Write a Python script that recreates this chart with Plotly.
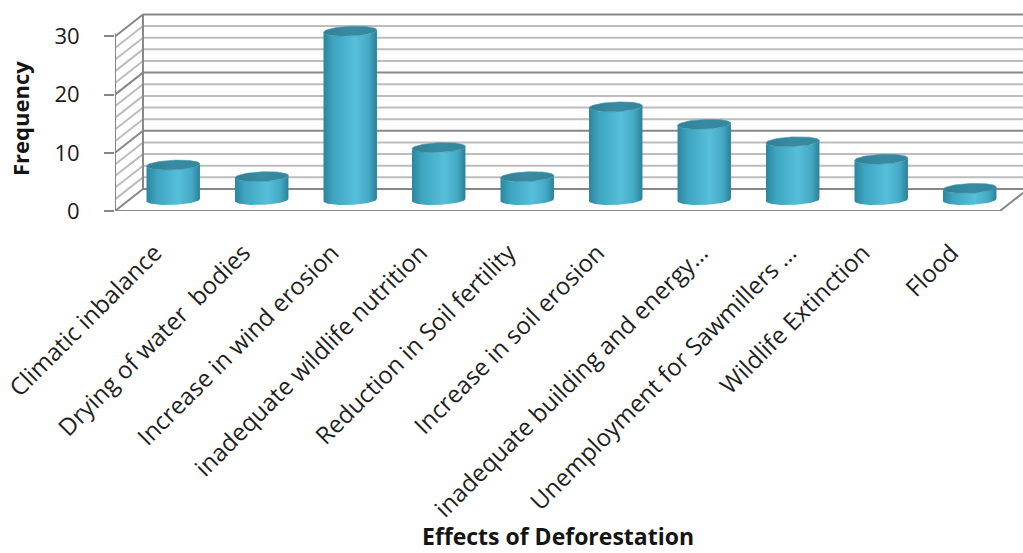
import numpy as np
import plotly.graph_objects as go

# ---- data -------------------------------------------------------------
effects = [
    "Climatic inbalance",
    "Drying of water  bodies",
    "Increase in wind erosion",
    "inadequate wildlife nutrition",
    "Reduction in Soil fertility",
    "Increase in soil erosion",
    "inadequate building and energy\u2026",
    "Unemployment for Sawmillers \u2026",
    "Wildlife Extinction",
    "Flood",
]
frequency = [6, 4, 29, 9, 4, 16, 13, 10, 7, 2]
y_ticks = [0, 10, 20, 30]

# ---- pseudo-3D geometry (data units) ---------------------------------
DX, DY = 0.316, 3.78          # offset from front plane to back wall
Y_TOP = 30                     # height of the walls
R, SKEW, B = 0.294, 0.068, 0.86  # cylinder radius / skew / ellipse depth
X_MIN, X_MAX = -0.5, 9.76
Y_MIN, Y_MAX = 0.0, 34.54
LABEL_SHIFT = -0.05            # nudges rotated labels under their bars
TRUNC_SHIFT = 0.17             # truncated labels sit a little further right

fig = go.Figure()


def line_trace(segments, color, width):
    xs, ys = [], []
    for (x0, y0), (x1, y1) in segments:
        xs += [x0, x1, None]
        ys += [y0, y1, None]
    fig.add_trace(go.Scatter(x=xs, y=ys, mode="lines",
                             line=dict(color=color, width=width),
                             hoverinfo="skip", showlegend=False))


n = len(effects)
x_left, x_right = -0.5, n - 0.5
levels = np.arange(0, Y_TOP + 1, 2)

minor = [v for v in levels if v % 10]
major = [v for v in levels if v % 10 == 0]

# back wall gridlines and side wall diagonals
for group, col, w in ((minor, "#bdbdbd", 2), (major, "#878787", 2)):
    segs = []
    for v in group:
        segs.append(((x_left + DX, v + DY), (x_right + DX, v + DY)))
        segs.append(((x_left, v), (x_left + DX, v + DY)))
    line_trace(segs, col, w)

# frame: front-left edge, back-left edge, floor
frame = [
    ((x_left, 0), (x_left, Y_TOP + 0.5)),
    ((x_left + DX, DY), (x_left + DX, Y_TOP + DY)),
    ((x_left, 0), (x_right, 0)),
    ((x_right, 0), (x_right + DX, DY)),
]
line_trace(frame, "#878787", 2)

# ---- cylinders ---------------------------------------------------------
body_scale = [[0.0, "#2a859d"], [0.18, "#3ea4bf"], [0.6, "#56bfda"],
              [0.85, "#44a9c4"], [1.0, "#2a8098"]]
t0 = np.arctan2(SKEW, R)


def ellipse(cx, cy, t):
    return cx + R * np.cos(t) + SKEW * np.sin(t), cy + B * np.sin(t)


for i, v in enumerate(frequency):
    cx = i + DX / 2
    base = DY / 2
    top = base + v
    front = np.linspace(t0 + np.pi, t0 + 2 * np.pi, 60)
    bx, by = ellipse(cx, base, front)
    tx, ty = ellipse(cx, top, front[::-1])
    fig.add_trace(go.Scatter(
        x=np.concatenate([bx, tx, bx[:1]]),
        y=np.concatenate([by, ty, by[:1]]),
        mode="lines", fill="toself", line=dict(width=0),
        fillgradient=dict(type="horizontal", colorscale=body_scale),
        hoverinfo="skip", showlegend=False))
    full = np.linspace(0, 2 * np.pi, 90)
    ex, ey = ellipse(cx, top, full)
    fig.add_trace(go.Scatter(
        x=ex, y=ey, mode="lines", fill="toself",
        line=dict(width=0.6, color="#3f97ae"),
        fillgradient=dict(type="horizontal",
                          colorscale=[[0, "#307f95"], [0.5, "#388ba2"],
                                      [1, "#34869c"]]),
        hoverinfo="skip", showlegend=False))

# ---- layout -------------------------------------------------------------
label_pos = [i + LABEL_SHIFT + (TRUNC_SHIFT if t.endswith("\u2026") else 0)
             for i, t in enumerate(effects)]

font = "Open Sans"
fig.update_layout(
    width=1023, height=553, autosize=False,
    margin=dict(l=115, r=0, t=10, b=342),
    paper_bgcolor="white", plot_bgcolor="white",
    showlegend=False,
    xaxis=dict(range=[X_MIN, X_MAX], showgrid=False, zeroline=False,
               showline=False, tickmode="array",
               tickvals=label_pos, ticktext=effects,
               tickangle=-45, ticks="", ticklabelstandoff=22,
               tickfont=dict(family=font, size=24, color="#1f1f1f")),
    yaxis=dict(range=[Y_MIN, Y_MAX], showgrid=False, zeroline=False,
               showline=False, tickmode="array", tickvals=y_ticks,
               ticks="outside", ticklen=10, tickwidth=2,
               tickcolor="#878787", ticklabelstandoff=20,
               tickfont=dict(family=font, size=22, color="#1a1a1a")),
    annotations=[
        dict(text="<b>Frequency</b>", xref="paper", yref="paper",
             x=-0.1046, y=0.458, xanchor="center", yanchor="middle",
             textangle=-90, showarrow=False,
             font=dict(family=font, size=22, color="#141414")),
        dict(text="<b>Effects of Deforestation</b>", xref="paper",
             yref="paper", x=0.488, y=-1.617, xanchor="center",
             yanchor="middle", showarrow=False,
             font=dict(family=font, size=23, color="#141414")),
    ],
)

fig.write_html("out.html")
